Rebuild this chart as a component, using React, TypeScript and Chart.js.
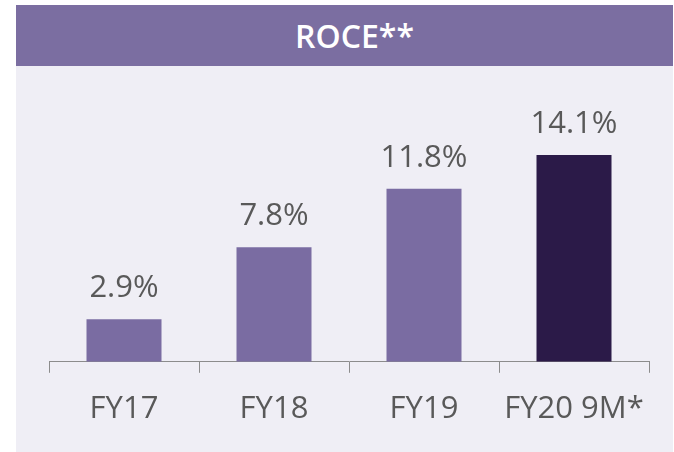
import React, { useEffect, useRef } from "react";
import { Chart, registerables } from "chart.js";

Chart.register(...registerables);

const categories = ["FY17", "FY18", "FY19", "FY20 9M*"];
const roceValues = [2.9, 7.8, 11.8, 14.1];
const barColors = ["#7a6ca2", "#7a6ca2", "#7a6ca2", "#2b1a48"];
const title = "ROCE**";

const valueLabels = {
  id: "valueLabels",
  afterDatasetsDraw(chart: any) {
    const ctx = chart.ctx;
    const meta = chart.getDatasetMeta(0);
    ctx.save();
    ctx.font = "31px 'Open Sans'";
    ctx.fillStyle = "#595959";
    ctx.textAlign = "center";
    ctx.textBaseline = "alphabetic";
    meta.data.forEach((bar: any, i: number) => {
      ctx.fillText(roceValues[i].toFixed(1) + "%", bar.x, bar.y - 22);
    });
    ctx.restore();
  },
};

export default function App() {
  const ref = useRef<HTMLCanvasElement>(null);
  useEffect(() => {
    if (!ref.current) return;
    const chart = new Chart(ref.current, {
      type: "bar",
      data: {
        labels: categories,
        datasets: [
          {
            data: roceValues,
            backgroundColor: barColors,
            barPercentage: 0.5,
            categoryPercentage: 1,
          },
        ],
      },
      options: {
        animation: false,
        responsive: false,
        maintainAspectRatio: false,
        layout: { padding: { left: 33, right: 24, top: 61, bottom: 6 } },
        plugins: { legend: { display: false }, tooltip: { enabled: false } },
        scales: {
          x: {
            offset: true,
            grid: {
              offset: true,
              drawOnChartArea: false,
              tickLength: 11,
              color: "#8c8c8c",
              lineWidth: 1,
            },
            border: { color: "#8c8c8c", width: 1 },
            ticks: {
              color: "#595959",
              font: { family: "'Open Sans'", size: 31 },
              padding: 18,
              maxRotation: 0,
              autoSkip: false,
            },
          },
          y: {
            display: false,
            min: 0,
            max: 16,
          },
        },
      },
      plugins: [valueLabels],
    });
    return () => chart.destroy();
  }, []);

  return (
    <div
      style={{
        position: "absolute",
        left: 16,
        top: 5,
        width: 657,
        height: 447,
        background: "#efeef5",
      }}
    >
      <div
        style={{
          height: 61,
          lineHeight: "61px",
          background: "#7b6ea1",
          color: "#ffffff",
          fontFamily: "'Open Sans'",
          fontWeight: 600,
          fontSize: 32,
          textAlign: "center",
          paddingLeft: 20,
        }}
      >
        {title}
      </div>
      <canvas ref={ref} width={657} height={386} style={{ display: "block" }} />
    </div>
  );
}
